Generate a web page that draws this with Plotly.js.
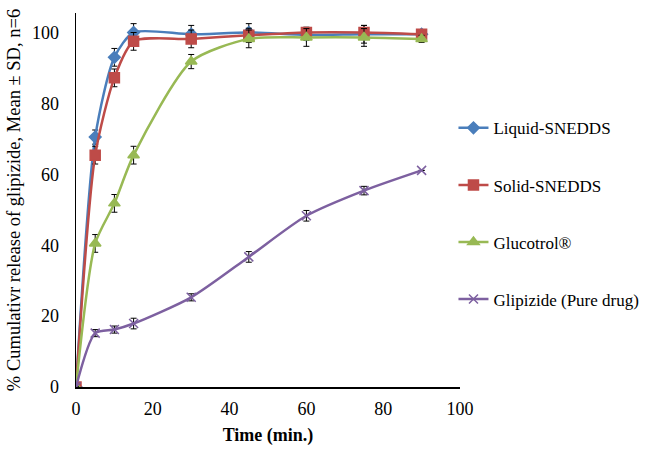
<!DOCTYPE html>
<html><head><meta charset="utf-8">
<script src="https://cdn.plot.ly/plotly-3.0.1.min.js"></script>
<style>body{margin:0;background:#fff}#c{width:648px;height:452px}</style>
</head><body><div id="c"></div>
<script>
const time = [0, 5, 10, 15, 30, 45, 60, 75, 90];
const liquid = [0, 70.5, 93, 100, 99.5, 100, 99.3, 99.5, 99.5];
const liquidSD = [0, 2, 2.5, 2.5, 2.5, 2.5, 1.5, 2.5, 1];
const solid = [0, 65.4, 87.2, 97.5, 98.2, 99.2, 100, 100, 99.5];
const solidSD = [0, 2.5, 2.5, 2.5, 2.5, 2, 1.5, 2, 1];
const gluco = [0, 40.5, 51.8, 65.4, 91.8, 98.2, 98.6, 98.6, 98.2];
const glucoSD = [0, 2.5, 2.5, 2.5, 2, 2.5, 2.5, 2.5, 1];
const glip = [0, 15.2, 16.2, 17.9, 25.3, 36.7, 48.3, 55.4, 61.1];
const glipSD = [0, 1, 1, 1.5, 1, 1.5, 1.5, 1.2, 0];
const names = ['Liquid-SNEDDS', 'Solid-SNEDDS', 'Glucotrol®', 'Glipizide (Pure drug)'];
const colors = ['#4A7EBB', '#BE4B48', '#98B954', '#7D60A0'];
const symbols = ['diamond', 'square', 'triangle-up', 'x-thin-open'];
const sizes = [9, 10, 10, 9];
const series = [liquid, solid, gluco, glip];
const sds = [liquidSD, solidSD, glucoSD, glipSD];

const traces = series.map((s, i) => ({
  x: time, y: s, name: names[i], type: 'scatter', mode: 'lines+markers',
  legendgroup: 'g' + i,
  line: {color: colors[i], width: 2.5, shape: 'spline', smoothing: 0.7},
  marker: {symbol: symbols[i], size: sizes[i], color: colors[i], line: {color: colors[i], width: 1.5}},
  error_y: {type: 'data', array: sds[i], visible: true, color: '#000', thickness: 1, width: 3}
}));

const serif = 'Liberation Serif, Times New Roman, serif';
Plotly.newPlot('c', traces, {
  width: 648, height: 452,
  margin: {l: 76, r: 188, t: 13, b: 65, autoexpand: false},
  paper_bgcolor: '#fff', plot_bgcolor: '#fff',
  font: {family: serif, size: 18, color: '#000'},
  showlegend: true,
  legend: {x: 0.983, xanchor: 'left', y: 0.74, yanchor: 'top', tracegroupgap: 32,
           font: {family: serif, size: 17, color: '#000'}, itemwidth: 30},
  xaxis: {range: [0, 100], dtick: 20, showgrid: false, zeroline: false,
          showline: true, linecolor: '#000', linewidth: 1.5,
          ticks: 'outside', ticklen: 5, tickcolor: 'rgba(0,0,0,0)',
          tickfont: {family: serif, size: 18},
          title: {text: '<b>Time (min.)</b>', font: {family: serif, size: 18}, standoff: 10}},
  yaxis: {range: [0, 105.5], tickvals: [0, 20, 40, 60, 80, 100], showgrid: false, zeroline: false,
          showline: true, linecolor: '#000', linewidth: 1.5,
          ticks: 'outside', ticklen: 12, tickcolor: 'rgba(0,0,0,0)',
          tickfont: {family: serif, size: 18},
          title: {text: '% Cumulativr release of glipizide, Mean ± SD, n=6', font: {family: serif, size: 18.5}, standoff: 6}}
}, {displayModeBar: false, staticPlot: true});
</script></body></html>
